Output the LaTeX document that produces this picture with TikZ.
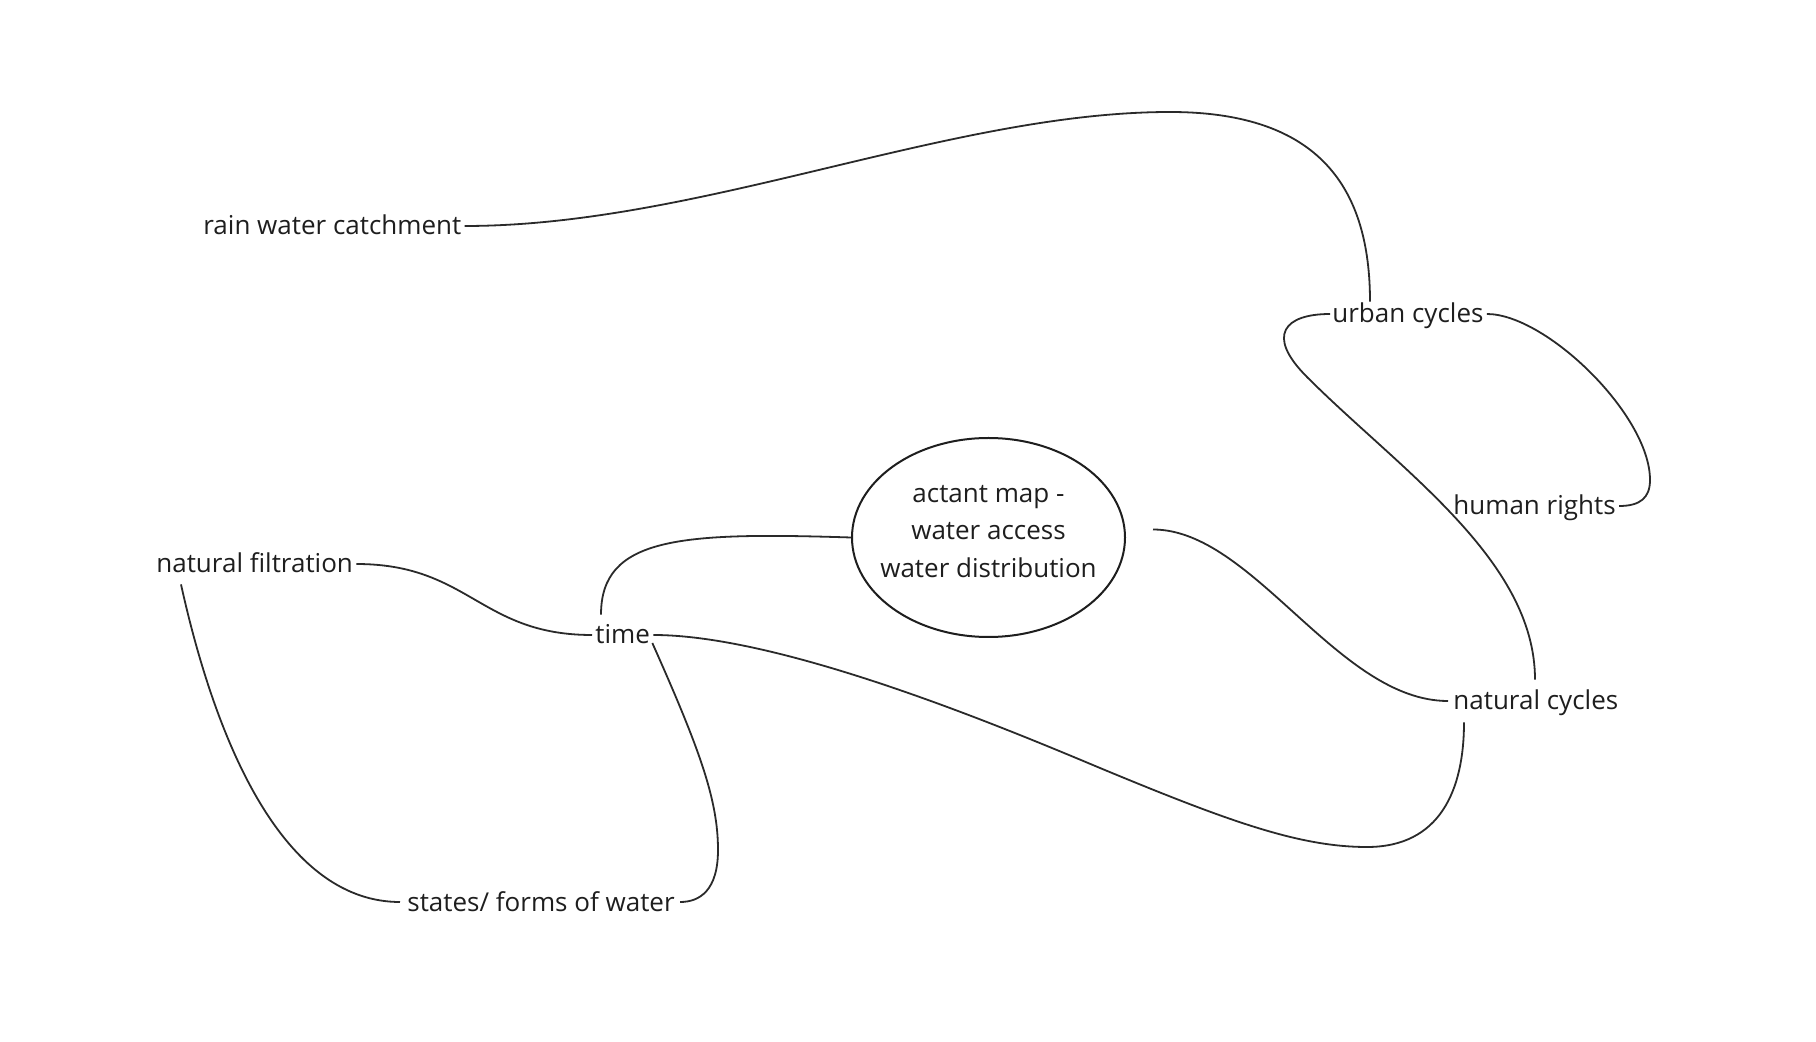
\documentclass[tikz,border=0pt]{standalone}
\usepackage{fontspec}
\setmainfont{Open Sans}
\usetikzlibrary{calc,shapes.geometric}
\definecolor{ink}{HTML}{1E1E1E}
\definecolor{wire}{HTML}{2A2A2A}
\begin{document}
\begin{tikzpicture}[x=0.5pt,y=-0.5pt,
  font=\fontsize{13pt}{18.75pt}\selectfont,
  term/.style={inner sep=0pt, text height=9pt, text depth=0pt, text=ink, anchor=west},
  link/.style={draw=wire, line width=0.9pt},
  hub/.style={draw=ink, ellipse, line width=1pt, inner sep=0pt,
    minimum width=136.5pt, minimum height=99.5pt}]
\useasboundingbox (0,0) rectangle (1816,1042);

% topics
\node[term] (rain)   at (203,226)  {rain water catchment};
\node[term] (urban)  at (1332,314) {urban cycles};
\node[term] (human)  at (1453,506) {human rights};
\node[term] (natcyc) at (1453,701) {natural cycles};
\node[term] (filt)   at (156,564)  {natural filtration};
\node[term] (time)   at (595,635)  {time};
\node[term] (states) at (407,902)  {states/ forms of water};

% central question
\node[hub] (actant) at (988.5,537.5) {};
\node[align=center, text=ink, inner sep=0pt] (actanttext) at (988.5,531.5)
  {actant map -\\water access\\water distribution};

% links
\draw[link] ($(rain.east)+(3,0)$) .. controls +(235,0) and +(-220,0) .. (1170,112)
  .. controls +(150,0) and +(0,-113) .. ($(urban.north west)+(38,-3)$);

\draw[link] ($(urban.east)+(3,0)$) .. controls +(59,0) and (1650,415) .. (1650,480)
  .. controls (1650,498) and (1640,506) .. ($(human.east)+(3,0)$);

\draw[link] ($(urban.west)+(-2,0)$) .. controls (1285,314) and (1265,335) .. (1307,377)
  .. controls (1400,470) and (1535,560) .. ($(natcyc.north west)+(82,-12)$);

\draw[link] ($(actant.east)+(27,-8)$) .. controls +(100,0) and +(-110,0) .. ($(natcyc.west)+(-5,0)$);

\draw[link] ($(time.north west)+(6,-11)$) .. controls (601,537) and (680,532) .. (actant.west);

\draw[link] ($(filt.east)+(3,0)$) .. controls +(113,0) and +(-112,0) .. ($(time.west)+(-3,0)$);

\draw[link] ($(filt.south west)+(25,11)$) .. controls +(39,176) and +(-110,0) .. ($(states.west)+(-7,0)$);

\draw[link] ($(time.east)+(2,8)$) .. controls (700,750) and (718,800) .. (718,850)
  .. controls (718,890) and (700,902) .. ($(states.east)+(5,0)$);

\draw[link] ($(time.east)+(3,0)$) .. controls +(128,0) and (1000,726) .. (1100,768)
  .. controls (1230,822) and (1300,847) .. (1367,847)
  .. controls (1440,847) and (1464,790) .. ($(natcyc.south west)+(11,12)$);
\end{tikzpicture}
\end{document}
